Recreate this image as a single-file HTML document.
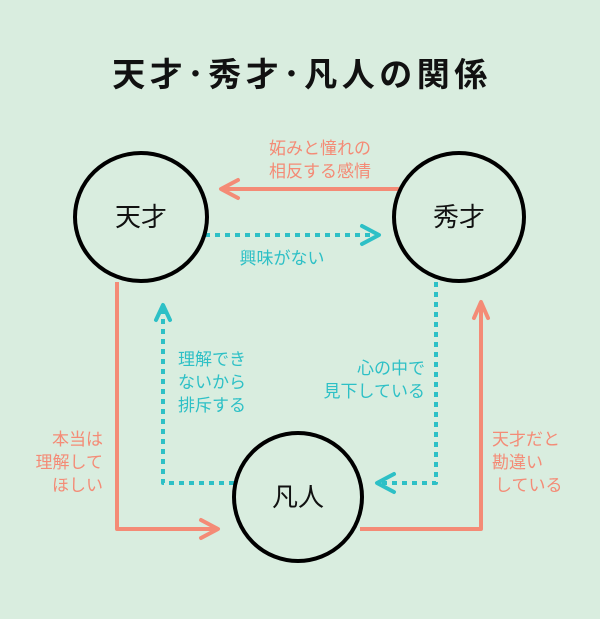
<!DOCTYPE html>
<html><head><meta charset="utf-8"><style>
html,body{margin:0;padding:0;background:#d9eddf;}
svg{display:block}
text{font-family:"Liberation Sans","Noto Sans CJK JP",sans-serif;}
</style></head><body>
<svg width="600" height="619" viewBox="0 0 600 619">
<rect width="600" height="619" fill="#d9eddf"/>
<text x="302" y="86" text-anchor="middle" font-size="33" font-weight="bold" fill="#111" letter-spacing="4.5">天才･秀才･凡人の関係</text>

<g fill="none" stroke-width="4" stroke-linecap="round" stroke-linejoin="round">
<line x1="398" y1="189" x2="222" y2="189" stroke="#f48b76"/>
<polyline points="238,180 221,189 238,198" stroke="#f48b76"/>
<line x1="205" y1="235" x2="377" y2="235" stroke="#2dc0c6" stroke-dasharray="5,5" stroke-linecap="butt"/>
<polyline points="362,226 379,235 362,244" stroke="#2dc0c6"/>
<polyline points="117,282 117,529 216,529" stroke="#f48b76" stroke-linecap="butt"/>
<polyline points="201,520 218,529 201,538" stroke="#f48b76"/>
<polyline points="234,483 163,483 163,306" stroke="#2dc0c6" stroke-dasharray="5,5" stroke-linecap="butt"/>
<polyline points="156,320 163,305 170,320" stroke="#2dc0c6"/>
<polyline points="436,282 436,483 379,483" stroke="#2dc0c6" stroke-dasharray="5,5" stroke-linecap="butt"/>
<polyline points="394,474 377,483 394,492" stroke="#2dc0c6"/>
<polyline points="360,529 481,529 481,303" stroke="#f48b76" stroke-linecap="butt"/>
<polyline points="474,318 481,302 488,318" stroke="#f48b76"/>
</g>

<g fill="#d9eddf" stroke="#000" stroke-width="4">
<ellipse cx="141" cy="217" rx="66" ry="64"/>
<ellipse cx="459" cy="217" rx="65" ry="64"/>
<ellipse cx="298" cy="497" rx="64" ry="64"/>
</g>
<g font-size="26" fill="#111" text-anchor="middle">
<text x="141" y="226">天才</text>
<text x="459" y="226">秀才</text>
<text x="298" y="506">凡人</text>
</g>

<g font-size="17" fill="#f48b76">
<text x="320" y="154" text-anchor="middle">妬みと憧れの</text>
<text x="320" y="177" text-anchor="middle">相反する感情</text>
<text x="103" y="445" text-anchor="end">本当は</text>
<text x="103" y="468" text-anchor="end">理解して</text>
<text x="103" y="491" text-anchor="end">ほしい</text>
<text x="492" y="445">天才だと</text>
<text x="492" y="468">勘違い</text>
<text x="495" y="491">している</text>
</g>
<g font-size="17" fill="#2dc0c6">
<text x="282" y="264" text-anchor="middle">興味がない</text>
<text x="178" y="365">理解でき</text>
<text x="178" y="388">ないから</text>
<text x="178" y="411">排斥する</text>
<text x="425" y="374" text-anchor="end">心の中で</text>
<text x="425" y="397" text-anchor="end">見下している</text>
</g>
</svg>
</body></html>
